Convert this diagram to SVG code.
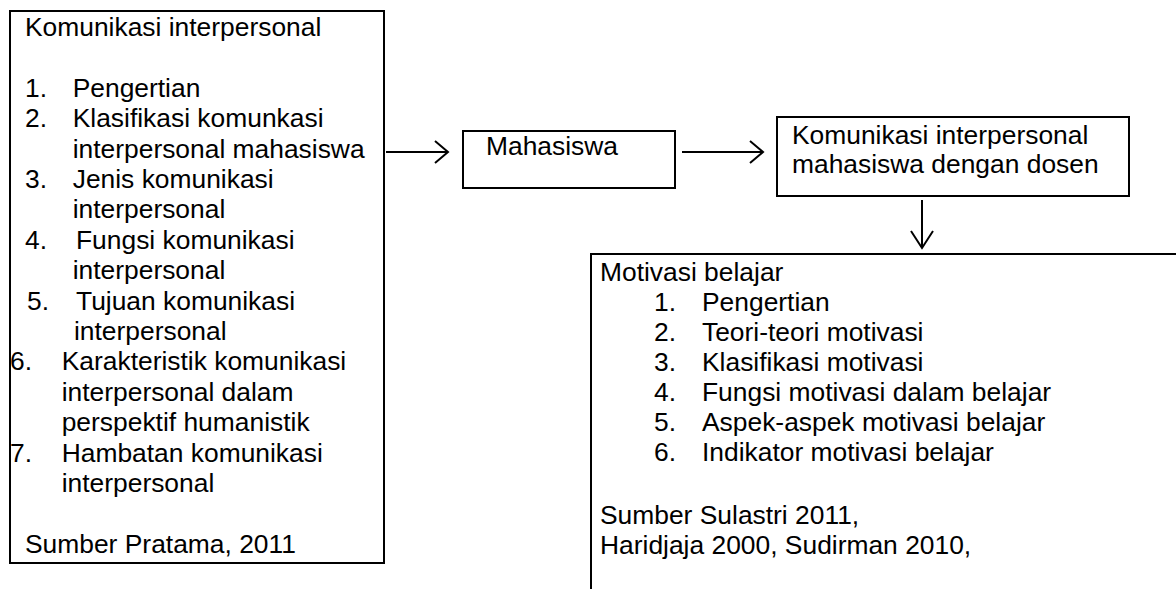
<svg xmlns="http://www.w3.org/2000/svg" width="1176" height="589" viewBox="0 0 1176 589">
<style>
text{font-family:"Liberation Sans",Arial,sans-serif;font-size:26.4px;fill:#000}
.box{fill:#fff;stroke:#000;stroke-width:2}
.ln{fill:none;stroke:#000;stroke-width:2;stroke-linecap:butt;stroke-linejoin:miter}
</style>
<rect width="1176" height="589" fill="#fff"/>
<g id="connectors">
<path class="ln" d="M386 152H448M435 141L448 152L435 163"/>
<path class="ln" d="M682 152H763M750 141L763 152L750 163"/>
<path class="ln" d="M922 200V248M911 231L922 248L933 231"/>
</g>
<g id="node-komunikasi">
<rect class="box" x="10" y="11" width="374" height="552"/>
<text x="25" y="36">Komunikasi interpersonal</text>
<text x="25" y="96.8">1.</text><text x="72.7" y="96.8">Pengertian</text>
<text x="25" y="127.2">2.</text><text x="72.7" y="127.2">Klasifikasi komunkasi</text>
<text x="72.7" y="157.6">interpersonal mahasiswa</text>
<text x="25" y="188">3.</text><text x="72.7" y="188">Jenis komunikasi</text>
<text x="72.7" y="218.4">interpersonal</text>
<text x="25" y="248.8">4.</text><text x="76" y="248.8">Fungsi komunikasi</text>
<text x="72.7" y="279.2">interpersonal</text>
<text x="27" y="309.6">5.</text><text x="76" y="309.6">Tujuan komunikasi</text>
<text x="74" y="340">interpersonal</text>
<text x="10" y="370.4">6.</text><text x="61.7" y="370.4">Karakteristik komunikasi</text>
<text x="61.7" y="400.8">interpersonal dalam</text>
<text x="61.7" y="431.2">perspektif humanistik</text>
<text x="10" y="461.6">7.</text><text x="61.7" y="461.6">Hambatan komunikasi</text>
<text x="61.7" y="492">interpersonal</text>
<text x="25" y="552.8">Sumber Pratama, 2011</text>
</g>
<g id="node-mahasiswa">
<rect class="box" x="463" y="131" width="212" height="57"/>
<text x="486" y="155">Mahasiswa</text>
</g>
<g id="node-kim">
<rect class="box" x="777" y="117" width="352" height="79"/>
<text x="792" y="144">Komunikasi interpersonal</text>
<text x="792" y="173">mahasiswa dengan dosen</text>
</g>
<g id="node-motivasi">
<rect class="box" x="591" y="254" width="600" height="400"/>
<text x="600" y="281">Motivasi belajar</text>
<text x="654" y="311">1.</text><text x="702" y="311">Pengertian</text>
<text x="654" y="341">2.</text><text x="702" y="341">Teori-teori motivasi</text>
<text x="654" y="371">3.</text><text x="702" y="371">Klasifikasi motivasi</text>
<text x="654" y="401">4.</text><text x="702" y="401">Fungsi motivasi dalam belajar</text>
<text x="654" y="431">5.</text><text x="702" y="431">Aspek-aspek motivasi belajar</text>
<text x="654" y="461">6.</text><text x="702" y="461">Indikator motivasi belajar</text>
<text x="600" y="524">Sumber Sulastri 2011,</text>
<text x="600" y="554">Haridjaja 2000, Sudirman 2010,</text>
</g>
</svg>
